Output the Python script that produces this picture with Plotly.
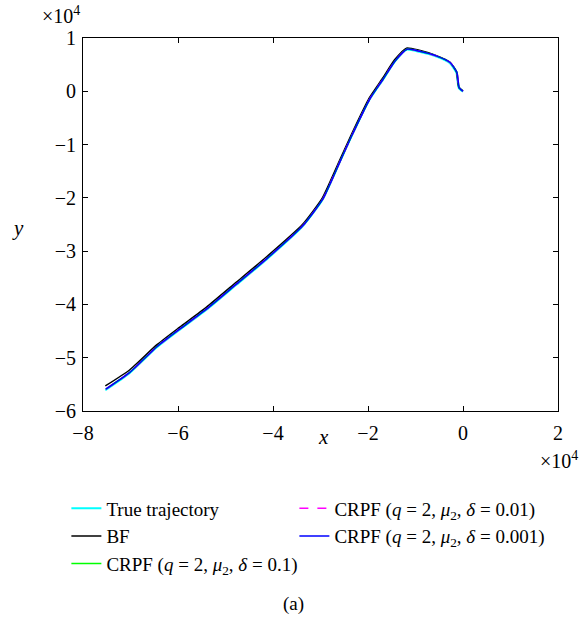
import plotly.graph_objects as go

# Data (units of 1e4)
true_x = [-7.53, -7.02, -6.45, -5.97, -5.40, -4.77, -4.14, -3.38, -2.96, -2.60, -2.35, -1.97, -1.69, -1.44, -1.19, -0.92, -0.56, -0.28, -0.14, -0.09, 0.00]
true_y = [-5.61, -5.29, -4.81, -4.48, -4.10, -3.63, -3.16, -2.54, -2.04, -1.34, -0.85, -0.16, 0.21, 0.55, 0.78, 0.74, 0.65, 0.53, 0.35, 0.06, -0.01]

bf_x = [-7.53, -7.02, -6.45, -5.97, -5.40, -4.77, -4.14, -3.38, -2.96, -2.60, -2.35, -1.97, -1.69, -1.44, -1.19, -0.92, -0.56, -0.28, -0.14, -0.09, 0.00]
bf_y = [-5.53, -5.23, -4.76, -4.43, -4.05, -3.58, -3.11, -2.50, -2.00, -1.30, -0.81, -0.12, 0.25, 0.59, 0.81, 0.77, 0.67, 0.55, 0.37, 0.08, 0.01]

c1_x = [-7.52, -7.01, -6.44, -5.96, -5.39, -4.76, -4.13, -3.37, -2.95, -2.59, -2.34, -1.96, -1.68, -1.43, -1.18, -0.91, -0.55, -0.27, -0.13, -0.08, 0.00]
c1_y = [-5.59, -5.27, -4.79, -4.46, -4.08, -3.61, -3.14, -2.52, -2.02, -1.32, -0.83, -0.14, 0.23, 0.57, 0.79, 0.75, 0.66, 0.54, 0.36, 0.07, 0.00]

c2_x = [-7.52, -7.01, -6.44, -5.96, -5.39, -4.76, -4.13, -3.37, -2.95, -2.59, -2.34, -1.96, -1.68, -1.43, -1.18, -0.91, -0.55, -0.27, -0.13, -0.08, 0.00]
c2_y = [-5.59, -5.27, -4.79, -4.46, -4.08, -3.61, -3.14, -2.52, -2.02, -1.32, -0.83, -0.14, 0.23, 0.57, 0.79, 0.75, 0.66, 0.54, 0.36, 0.07, 0.00]

c3_x = [-7.52, -7.01, -6.44, -5.96, -5.39, -4.76, -4.13, -3.37, -2.95, -2.59, -2.34, -1.96, -1.68, -1.43, -1.18, -0.91, -0.55, -0.27, -0.13, -0.08, 0.00]
c3_y = [-5.59, -5.27, -4.79, -4.46, -4.08, -3.61, -3.14, -2.52, -2.02, -1.32, -0.83, -0.14, 0.23, 0.57, 0.79, 0.75, 0.66, 0.54, 0.36, 0.07, 0.00]

x_ticks = [-8, -6, -4, -2, 0, 2]
y_ticks = [-6, -5, -4, -3, -2, -1, 0, 1]

FONT = "Liberation Serif"
FS = 20
LFS = 19


def lbl(v):
    return str(v) if v >= 0 else "\u2212" + str(-v)


fig = go.Figure()
line_common = dict(shape="spline", smoothing=0.5)
fig.add_trace(go.Scatter(x=true_x, y=true_y, mode="lines", name="True trajectory",
                         line=dict(color="#00FFFF", width=2, **line_common), legend="legend"))
fig.add_trace(go.Scatter(x=bf_x, y=bf_y, mode="lines", name="BF",
                         line=dict(color="#000000", width=1.5, **line_common), legend="legend"))
fig.add_trace(go.Scatter(x=c1_x, y=c1_y, mode="lines",
                         name="CRPF (<i>q</i> = 2, <i>μ</i><sub>2</sub>, <i>δ</i> = 0.1)",
                         line=dict(color="#00FF00", width=1.5, **line_common), legend="legend"))
fig.add_trace(go.Scatter(x=c2_x, y=c2_y, mode="lines",
                         name="CRPF (<i>q</i> = 2, <i>μ</i><sub>2</sub>, <i>δ</i> = 0.01)",
                         line=dict(color="#FF00FF", width=1.5, dash="dash", **line_common), legend="legend2"))
fig.add_trace(go.Scatter(x=c3_x, y=c3_y, mode="lines",
                         name="CRPF (<i>q</i> = 2, <i>μ</i><sub>2</sub>, <i>δ</i> = 0.001)",
                         line=dict(color="#0000FF", width=1.5, **line_common), legend="legend2"))

axis_common = dict(showline=True, linecolor="black", linewidth=1, mirror="ticks",
                   ticks="inside", ticklen=5, tickcolor="black", showgrid=False,
                   zeroline=False, tickfont=dict(family=FONT, size=FS, color="black"))

fig.update_xaxes(range=[-8, 2], tickvals=x_ticks, ticktext=[lbl(v) for v in x_ticks],
                 ticklabelstandoff=4, **axis_common)
fig.update_yaxes(range=[-6, 1], tickvals=y_ticks, ticktext=[lbl(v) for v in y_ticks],
                 ticklabelstandoff=2, **axis_common)

leg_common = dict(orientation="v", yanchor="top", xanchor="left", bgcolor="rgba(0,0,0,0)",
                  font=dict(family=FONT, size=LFS, color="black"), tracegroupgap=0)


def ann(text, x, y, size):
    return dict(text=text, x=x, y=y, xref="paper", yref="paper", showarrow=False,
                xanchor="center", yanchor="middle",
                font=dict(family=FONT, size=size, color="black"))


fig.update_layout(
    width=588, height=621,
    margin=dict(l=83, r=30, t=38, b=210),
    plot_bgcolor="white", paper_bgcolor="white",
    showlegend=True,
    legend=dict(x=-0.035, y=-0.21, **leg_common),
    legend2=dict(x=0.445, y=-0.21, **leg_common),
    annotations=[
        ann("<i>x</i>", (323 - 83) / 475, (411 - 437) / 373, FS + 1),
        ann("<i>y</i>", (18 - 83) / 475, (411 - 228) / 373, FS + 1),
        ann("×10<sup>4</sup>", (61 - 83) / 475, (411 - 15) / 373, FS),
        ann("×10<sup>4</sup>", (559 - 83) / 475, (411 - 460) / 373, FS),
        ann("(a)", (293 - 83) / 475, (411 - 604) / 373, FS - 1),
    ],
)

fig.write_html("out.html")
